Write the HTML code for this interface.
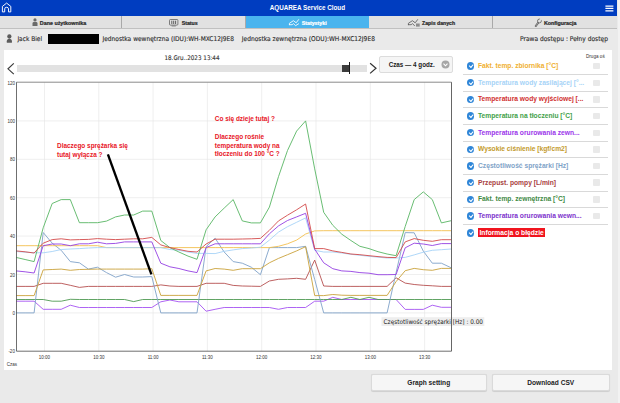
<!DOCTYPE html>
<html><head><meta charset="utf-8"><title>AQUAREA Service Cloud</title>
<style>
html,body{margin:0;padding:0}
body{width:620px;height:403px;overflow:hidden;background:#eaeaea;font-family:"Liberation Sans","DejaVu Sans",sans-serif;position:relative;color:#333}
.abs{position:absolute}
.dv{font-family:"DejaVu Sans Condensed","Liberation Sans",sans-serif;-webkit-text-stroke:0.12px currentColor;color:#2c2c2c}
#top{left:0;top:0;width:617.3px;height:15.7px;background:#003dc0}
#title{left:-2.5px;top:0;width:619.8px;height:15.4px;line-height:15.4px;text-align:center;color:#fff;font-weight:bold;font-size:6.3px}
#tabs{left:0;top:15.7px;width:617.3px;height:13px;background:#e1e1e1;border-bottom:0.7px solid #c0c0c0;box-sizing:border-box}
.tab{position:absolute;top:0;height:12.3px;box-sizing:border-box;border-right:0.8px solid #a9a9a9}
.tt{position:absolute;top:0;height:12.4px;line-height:14.7px;font-weight:bold;color:#2a2a2a;white-space:nowrap;-webkit-text-stroke:0.22px currentColor}
.tab.on{background:#4ab4ee;color:#fff}
#urow{left:0;top:29px;width:620px;height:20px;font-size:6.3px;line-height:20.4px;color:#333}
#panel{left:4.3px;top:50.3px;width:607.4px;height:319.9px;background:#fff}
.ax{font-size:4.5px;fill:#333;font-family:"Liberation Sans",sans-serif}
.ann{font-size:6.45px;font-weight:bold;fill:#e8161f;font-family:"Liberation Sans",sans-serif}
.lrow{position:absolute;left:462.6px;width:145.3px;height:17.3px;border-bottom:0.9px solid #d9d9d9;box-sizing:border-box}
.chk{position:absolute;left:4.3px;top:4.6px;width:7.4px;height:7.4px;border-radius:50%;background:#2f86d8}
.chk:after{content:"";position:absolute;left:1.8px;top:1.9px;width:3.2px;height:1.6px;border-left:1.1px solid #fff;border-bottom:1.1px solid #fff;transform:rotate(-48deg)}
.lt{position:absolute;left:15.4px;top:0.3px;line-height:15.4px;font-size:6.7px;font-weight:bold;white-space:nowrap}
.box{position:absolute;left:130.8px;top:5px;width:6.5px;height:6.5px;background:#e9e9e9;border-radius:1px}
.btn{position:absolute;top:374.3px;height:16.6px;box-shadow:0 0.5px 0.8px rgba(0,0,0,0.12);background:#f6f6f6;border:0.8px solid #dadada;border-radius:2px;box-sizing:border-box;text-align:center;line-height:15.6px;font-size:6.6px;font-weight:bold;color:#222}
</style></head><body>
<div id="top" class="abs"></div>
<div id="title" class="abs">AQUAREA Service Cloud</div>
<svg class="abs" style="left:0;top:0" width="14" height="15" viewBox="0 0 14 15"><path d="M2.4 6.4 L6.6 3.1 L10.8 6.4 V11.9 H8.5 V8.8 Q8.5 7.3 6.6 7.3 Q4.7 7.3 4.7 8.8 V11.9 H2.4 Z" fill="none" stroke="#fff" stroke-width="0.95" stroke-linejoin="round"/></svg>
<svg class="abs" style="left:605px;top:4.6px" width="9" height="7" viewBox="0 0 9 7"><path d="M0.4 1H8.4M0.4 3.4H8.4M0.4 5.8H8.4" stroke="#fff" stroke-width="1.25"/></svg>
<div id="tabs" class="abs">
<div class="tab" style="left:0;width:121.5px"></div>
<div class="tab" style="left:121.5px;width:124.3px"></div>
<div class="tab on" style="left:245.8px;width:123.6px;border-right:0"></div>
<div class="tab" style="left:369.4px;width:124.1px"></div>
<div class="tab" style="left:493.5px;width:123.8px;border-right:0"></div>
<span class="tt" style="left:39.8px;font-size:5.36px">Dane użytkownika</span>
<span class="tt" style="left:181.7px;font-size:5.24px">Status</span>
<span class="tt" style="left:301.7px;font-size:5.29px;color:#fff">Statystyki</span>
<span class="tt" style="left:422.1px;font-size:5.16px">Zapis danych</span>
<span class="tt" style="left:543.9px;font-size:5.32px">Konfiguracja</span>
<svg class="abs" style="left:32px;top:2.4px" width="6" height="8.5" viewBox="0 0 6 8.5"><circle cx="3" cy="1.9" r="1.6" fill="#6a6a6a"/><path d="M0.5 8V5.4Q0.5 4 1.9 4H4.1Q5.5 4 5.5 5.4V8Z" fill="#6a6a6a"/></svg>
<svg class="abs" style="left:169.3px;top:3px" width="10" height="8" viewBox="0 0 10 8"><rect x="0.5" y="0.5" width="8.4" height="5.6" rx="0.9" fill="none" stroke="#5a5a5a" stroke-width="0.75"/><path d="M2.8 1.7V5M4.7 1.7V5M6.6 1.7V5" stroke="#444" stroke-width="0.85"/><path d="M2.6 7H6.8" stroke="#666" stroke-width="0.7"/></svg>
<svg class="abs" style="left:288px;top:2px" width="13" height="10" viewBox="0 0 13 10"><path d="M1.4 6.7V5.3L5.4 2.7L8.2 4.8L10.6 1.6" fill="none" stroke="#fff" stroke-width="0.85" stroke-linejoin="round" stroke-linecap="round"/><path d="M1.4 6.7H4.2L5.5 5.6L7.5 7.7L10.6 5.8" fill="none" stroke="#fff" stroke-width="0.85" stroke-linejoin="round" stroke-linecap="round"/></svg>
<svg class="abs" style="left:407px;top:2px" width="14" height="10" viewBox="0 0 14 10"><path d="M1.4 6.7V5.3L5.4 2.7L8.2 4.8L10.6 1.6" fill="none" stroke="#555" stroke-width="0.8" stroke-linejoin="round" stroke-linecap="round"/><path d="M1.4 6.7H4.2L5.5 5.6L7.5 7.7" fill="none" stroke="#555" stroke-width="0.8" stroke-linejoin="round" stroke-linecap="round"/><rect x="9" y="5.5" width="3.7" height="3.1" fill="#8c8c8c"/></svg>
<svg class="abs" style="left:534px;top:2px" width="9" height="10" viewBox="0 0 9 10"><path d="M1.7 8.1L4.3 4.6" stroke="#5a5a5a" stroke-width="1.8" fill="none" stroke-linecap="round"/><path d="M1.7 8.1L4.3 4.6" stroke="#dcdcdc" stroke-width="0.55" fill="none" stroke-linecap="round"/><circle cx="5.4" cy="3" r="1.9" fill="#e1e1e1" stroke="#5a5a5a" stroke-width="0.8"/><path d="M5.5 2.9L7.8 0.3" stroke="#e1e1e1" stroke-width="1.5" fill="none"/></svg>
</div>
<div id="urow" class="abs">
<span class="abs dv" style="left:17.4px;top:0;white-space:nowrap;font-size:6.5px">Jack Biel</span>
<span class="abs" style="left:48px;top:4.5px;width:50.8px;height:10.4px;background:#000"></span>
<span class="abs dv" style="left:102.4px;top:0;white-space:nowrap;font-size:6.58px">Jednostka wewnętrzna (IDU):WH-MXC12J9E8</span>
<span class="abs dv" style="left:241.8px;top:0;white-space:nowrap;font-size:6.6px">Jednostka zewnętrzna (ODU):WH-MXC12J9E8</span>
<span class="abs dv" style="left:520px;top:0;white-space:nowrap;font-size:6.61px">Prawa dostępu : Pełny dostęp</span>
</div>
<svg class="abs" style="left:0;top:30px" width="16" height="16" viewBox="0 0 16 16"><circle cx="9.35" cy="6.5" r="2.15" fill="#5c5c5c"/><path d="M6.8 12.7V11.2Q6.8 8.7 9.35 8.7Q11.9 8.7 11.9 11.2V12.7Z" fill="#5c5c5c"/></svg>
<div class="abs" style="left:617.5px;top:0;width:2.5px;height:403px;background:#f2f2f2"></div>
<div id="panel" class="abs"></div>
<div class="abs dv" style="top:54.3px;width:200px;text-align:center;font-size:6.25px;color:#333;left:92px">18.Gru..2023 13:44</div>
<div class="abs" style="left:16.8px;top:65.1px;width:350.5px;height:6.6px;background:#e2e2e2"></div>
<svg class="abs" style="left:5px;top:60px" width="12" height="17" viewBox="0 0 12 17"><path d="M8.8 3.4L3 8.8L8.8 14.2" fill="none" stroke="#3a3a3a" stroke-width="1.15"/></svg>
<svg class="abs" style="left:367px;top:60px" width="12" height="17" viewBox="0 0 12 17"><path d="M3.1 3.2L9 8.3L3.1 13.4" fill="none" stroke="#333" stroke-width="1.2"/></svg>
<div class="abs" style="left:342px;top:64.7px;width:7px;height:7.3px;background:#3c3c3c"></div>
<div class="abs" style="left:348.9px;top:62.2px;width:1.5px;height:12.3px;background:#1a1a1a"></div>
<div class="abs" style="left:379.3px;top:55.9px;width:74px;height:17.2px;background:#f5f5f5;border:0.8px solid #dcdcdc;border-radius:2px;box-sizing:border-box"></div>
<div class="abs" style="left:388.7px;top:55.9px;height:17.2px;line-height:17.6px;font-size:6.29px;font-weight:bold;color:#222;white-space:nowrap">Czas — 4 godz.</div>
<svg class="abs" style="left:440.8px;top:60.2px" width="9" height="9" viewBox="0 0 9 9"><circle cx="4.5" cy="4.5" r="4" fill="#a6a6a6"/><path d="M2.5 3.7L4.5 5.8L6.5 3.7" fill="none" stroke="#fff" stroke-width="1.1"/></svg>

<svg class="abs" style="left:0;top:0" width="620" height="403" viewBox="0 0 620 403">
<line x1="44.5" y1="82.2" x2="44.5" y2="351.2" stroke="#e7e7e7" stroke-width="0.65"/>
<line x1="98.8" y1="82.2" x2="98.8" y2="351.2" stroke="#e7e7e7" stroke-width="0.65"/>
<line x1="153.1" y1="82.2" x2="153.1" y2="351.2" stroke="#e7e7e7" stroke-width="0.65"/>
<line x1="207.4" y1="82.2" x2="207.4" y2="351.2" stroke="#e7e7e7" stroke-width="0.65"/>
<line x1="261.7" y1="82.2" x2="261.7" y2="351.2" stroke="#e7e7e7" stroke-width="0.65"/>
<line x1="316.0" y1="82.2" x2="316.0" y2="351.2" stroke="#e7e7e7" stroke-width="0.65"/>
<line x1="370.3" y1="82.2" x2="370.3" y2="351.2" stroke="#e7e7e7" stroke-width="0.65"/>
<line x1="424.6" y1="82.2" x2="424.6" y2="351.2" stroke="#e7e7e7" stroke-width="0.65"/>
<line x1="16.5" y1="120.9" x2="451.5" y2="120.9" stroke="#e7e7e7" stroke-width="0.65"/>
<line x1="16.5" y1="159.3" x2="451.5" y2="159.3" stroke="#e7e7e7" stroke-width="0.65"/>
<line x1="16.5" y1="197.7" x2="451.5" y2="197.7" stroke="#e7e7e7" stroke-width="0.65"/>
<line x1="16.5" y1="236.1" x2="451.5" y2="236.1" stroke="#e7e7e7" stroke-width="0.65"/>
<line x1="16.5" y1="274.5" x2="451.5" y2="274.5" stroke="#e7e7e7" stroke-width="0.65"/>
<line x1="16.5" y1="312.9" x2="451.5" y2="312.9" stroke="#e7e7e7" stroke-width="0.65"/>
<polyline points="16.0,301.2 25.1,301.2 34.1,301.2 43.2,309.3 52.2,309.3 61.2,309.3 70.3,305.2 79.4,307.5 88.4,307.5 97.5,307.5 106.5,307.5 115.6,307.5 124.6,307.5 133.7,307.5 142.7,307.5 151.8,307.5 160.8,301.8 169.9,300.0 178.9,301.8 188.0,301.8 197.0,301.8 206.1,311.2 215.1,309.3 224.2,307.5 233.2,307.5 242.3,307.5 251.3,307.5 260.4,307.5 269.4,307.5 278.5,309.3 287.5,307.5 296.6,307.5 305.6,307.5 314.7,301.2 323.7,301.2 332.8,297.3 341.8,299.5 350.9,299.5 359.9,299.5 369.0,299.5 378.0,299.5 387.1,299.5 396.1,299.5 405.2,309.4 414.2,309.4 423.3,309.4 432.3,305.2 441.4,307.3 451.2,307.3" fill="none" stroke="#a552f2" stroke-width="0.9" stroke-linejoin="round"/>
<polyline points="16.0,299.5 25.1,299.5 34.1,299.5 43.2,299.5 52.2,301.2 61.2,301.2 70.3,299.3 79.4,299.5 88.4,299.5 97.5,299.5 106.5,299.5 115.6,299.5 124.6,299.5 133.7,301.6 142.7,299.5 151.8,299.5 160.8,299.5 169.9,299.5 178.9,299.5 188.0,299.5 197.0,299.5 206.1,299.5 215.1,299.5 224.2,299.5 233.2,299.5 242.3,299.5 251.3,299.5 260.4,299.5 269.4,299.5 278.5,299.5 287.5,299.5 296.6,299.5 305.6,299.5 314.7,299.5 323.7,299.5 332.8,299.5 341.8,299.5 350.9,297.3 359.9,299.5 369.0,297.3 378.0,299.5 387.1,299.5 396.1,299.5 405.2,299.5 414.2,299.5 423.3,299.5 432.3,299.5 441.4,299.5 451.2,299.5" fill="none" stroke="#4f9a52" stroke-width="0.9" stroke-linejoin="round"/>
<polyline points="16.0,286.4 25.1,286.4 34.1,286.4 43.2,283.3 52.2,283.3 61.2,283.3 70.3,285.3 79.4,287.4 88.4,286.4 97.5,286.4 106.5,286.4 115.6,286.4 124.6,286.4 133.7,286.4 142.7,286.4 151.8,286.4 160.8,284.9 169.9,286.0 178.9,286.4 188.0,286.4 197.0,286.4 206.1,283.3 215.1,283.3 224.2,283.3 233.2,285.4 242.3,286.0 251.3,286.2 260.4,286.4 269.4,281.0 278.5,279.3 287.5,278.9 296.6,278.3 305.6,279.3 314.7,260.1 323.7,286.0 332.8,286.4 341.8,286.4 350.9,286.4 359.9,286.4 369.0,286.4 378.0,286.4 387.1,286.4 396.1,277.8 405.2,283.1 414.2,284.5 423.3,285.3 432.3,285.8 441.4,286.4 451.2,286.4" fill="none" stroke="#b54f4f" stroke-width="0.9" stroke-linejoin="round"/>
<polyline points="16.0,312.9 25.1,312.9 34.1,312.9 43.2,232.5 52.2,243.2 61.2,250.3 70.3,261.6 79.4,262.8 88.4,269.1 97.5,267.2 106.5,272.6 115.6,277.2 124.6,274.5 133.7,277.0 142.7,277.0 151.8,276.6 160.8,312.9 169.9,312.9 178.9,312.9 188.0,312.9 197.0,312.9 206.1,246.7 215.1,238.2 224.2,252.0 233.2,261.6 242.3,263.2 251.3,267.2 260.4,274.7 269.4,247.6 278.5,247.6 287.5,247.6 296.6,247.6 305.6,246.3 314.7,279.5 323.7,312.9 332.8,312.9 341.8,312.9 350.9,312.9 359.9,312.9 369.0,312.9 378.0,312.9 387.1,312.9 396.1,272.6 405.2,232.6 414.2,232.8 423.3,251.1 432.3,263.2 441.4,263.2 451.2,267.8" fill="none" stroke="#7fa2c8" stroke-width="0.9" stroke-linejoin="round"/>
<polyline points="16.0,295.6 25.1,295.6 34.1,295.6 43.2,269.9 52.2,269.5 61.2,269.1 70.3,270.3 79.4,269.5 88.4,269.3 97.5,269.1 106.5,269.1 115.6,269.1 124.6,269.1 133.7,269.1 142.7,269.1 151.8,268.7 160.8,295.4 169.9,295.4 178.9,295.4 188.0,295.4 197.0,295.4 206.1,270.9 215.1,268.5 224.2,269.1 233.2,270.3 242.3,268.7 251.3,268.7 260.4,268.7 269.4,262.8 278.5,258.4 287.5,254.7 296.6,250.9 305.6,246.7 314.7,295.6 323.7,295.6 332.8,294.5 341.8,295.2 350.9,295.4 359.9,295.4 369.0,295.4 378.0,295.4 387.1,295.4 396.1,281.6 405.2,270.7 414.2,268.4 423.3,269.7 432.3,270.3 441.4,268.4 451.2,268.4" fill="none" stroke="#c9a13a" stroke-width="0.9" stroke-linejoin="round"/>
<polyline points="16.0,245.7 25.1,245.7 34.1,245.7 43.2,245.7 52.2,245.7 61.2,245.7 70.3,245.7 79.4,245.7 88.4,245.7 97.5,245.7 106.5,247.6 115.6,247.6 124.6,247.6 133.7,247.6 142.7,247.6 151.8,247.6 160.8,247.6 169.9,247.6 178.9,247.6 188.0,247.6 197.0,247.6 206.1,247.6 215.1,247.6 224.2,247.6 233.2,247.6 242.3,247.6 251.3,247.6 260.4,247.6 269.4,247.6 278.5,246.3 287.5,243.8 296.6,240.1 305.6,234.0 314.7,230.9 323.7,230.7 332.8,230.7 341.8,230.7 350.9,230.7 359.9,230.7 369.0,230.7 378.0,230.7 387.1,230.7 396.1,230.7 405.2,230.7 414.2,230.7 423.3,230.7 432.3,230.7 441.4,230.7 451.2,230.7" fill="none" stroke="#f3c04e" stroke-width="0.9" stroke-linejoin="round"/>
<polyline points="16.0,251.5 25.1,252.2 34.1,252.8 43.2,252.8 52.2,251.5 61.2,249.5 70.3,249.0 79.4,248.6 88.4,248.0 97.5,247.6 106.5,247.6 115.6,247.6 124.6,247.6 133.7,247.6 142.7,247.6 151.8,247.6 160.8,247.6 169.9,249.5 178.9,250.3 188.0,252.0 197.0,253.4 206.1,253.4 215.1,253.6 224.2,251.3 233.2,249.9 242.3,248.6 251.3,248.0 260.4,247.2 269.4,240.1 278.5,232.1 287.5,226.7 296.6,222.3 305.6,217.9 314.7,250.3 323.7,252.0 332.8,252.0 341.8,253.0 350.9,254.3 359.9,255.3 369.0,256.3 378.0,257.2 387.1,258.0 396.1,258.0 405.2,257.4 414.2,254.9 423.3,252.2 432.3,250.3 441.4,249.7 451.2,249.0" fill="none" stroke="#a6d3f7" stroke-width="0.9" stroke-linejoin="round"/>
<polyline points="16.0,257.4 25.1,259.5 34.1,261.6 43.2,227.8 52.2,203.5 61.2,199.6 70.3,199.6 79.4,222.7 88.4,222.7 97.5,222.7 106.5,221.1 115.6,216.9 124.6,215.0 133.7,215.0 142.7,211.1 151.8,211.1 160.8,240.5 169.9,247.6 178.9,252.0 188.0,256.1 197.0,259.3 206.1,229.8 215.1,216.9 224.2,208.1 233.2,199.6 242.3,220.9 251.3,222.9 260.4,222.9 269.4,207.1 278.5,176.6 287.5,150.5 296.6,131.1 305.6,120.9 314.7,168.9 323.7,212.3 332.8,225.3 341.8,234.2 350.9,240.5 359.9,246.3 369.0,248.6 378.0,251.7 387.1,254.0 396.1,255.7 405.2,226.5 414.2,199.6 423.3,191.9 432.3,199.6 441.4,222.9 451.2,220.7" fill="none" stroke="#58b563" stroke-width="0.9" stroke-linejoin="round"/>
<polyline points="16.0,270.9 25.1,271.8 34.1,273.0 43.2,245.7 52.2,244.0 61.2,244.0 70.3,245.7 79.4,243.8 88.4,243.8 97.5,242.2 106.5,243.8 115.6,243.4 124.6,241.9 133.7,241.9 142.7,241.9 151.8,241.9 160.8,263.2 169.9,266.8 178.9,268.5 188.0,270.9 197.0,272.6 206.1,247.6 215.1,243.8 224.2,243.8 233.2,243.8 242.3,243.8 251.3,243.8 260.4,243.8 269.4,233.8 278.5,225.9 287.5,220.5 296.6,216.9 305.6,213.3 314.7,249.2 323.7,262.8 332.8,268.7 341.8,270.9 350.9,271.4 359.9,272.6 369.0,273.2 378.0,274.7 387.1,274.7 396.1,274.5 405.2,247.8 414.2,243.2 423.3,244.0 432.3,245.5 441.4,243.6 451.2,243.6" fill="none" stroke="#9440e2" stroke-width="0.9" stroke-linejoin="round"/>
<polyline points="16.0,250.9 25.1,251.8 34.1,253.0 43.2,243.2 52.2,239.6 61.2,238.8 70.3,239.9 79.4,239.6 88.4,239.4 97.5,238.6 106.5,239.2 115.6,239.6 124.6,239.2 133.7,238.8 142.7,238.8 151.8,237.4 160.8,244.9 169.9,247.6 178.9,249.5 188.0,251.3 197.0,252.0 206.1,244.0 215.1,239.2 224.2,239.2 233.2,239.2 242.3,239.0 251.3,238.8 260.4,238.4 269.4,230.3 278.5,220.9 287.5,215.2 296.6,209.8 305.6,204.0 314.7,248.6 323.7,248.6 332.8,250.9 341.8,252.4 350.9,254.0 359.9,254.7 369.0,255.7 378.0,256.6 387.1,257.4 396.1,257.6 405.2,241.9 414.2,238.6 423.3,240.3 432.3,241.3 441.4,239.7 451.2,239.7" fill="none" stroke="#d24a4a" stroke-width="0.9" stroke-linejoin="round"/>
<rect x="381.5" y="317.2" width="102.8" height="8.8" fill="#eeeeee"/>
<line x1="16.5" y1="82.2" x2="451.5" y2="82.2" stroke="#8a8a8a" stroke-width="1"/>
<line x1="451.5" y1="82.2" x2="451.5" y2="351.2" stroke="#666" stroke-width="1"/>
<line x1="16.5" y1="82.2" x2="16.5" y2="351.2" stroke="#555" stroke-width="0.85"/>
<line x1="16.5" y1="351.2" x2="451.5" y2="351.2" stroke="#555" stroke-width="0.85"/>
<text x="14.9" y="84.6" text-anchor="end" class="ax">120</text>
<text x="14.9" y="123.0" text-anchor="end" class="ax">100</text>
<text x="14.9" y="161.4" text-anchor="end" class="ax">80</text>
<text x="14.9" y="199.8" text-anchor="end" class="ax">60</text>
<text x="14.9" y="238.2" text-anchor="end" class="ax">40</text>
<text x="14.9" y="276.6" text-anchor="end" class="ax">20</text>
<text x="14.9" y="315.0" text-anchor="end" class="ax">0</text>
<text x="14.9" y="353.4" text-anchor="end" class="ax">-20</text>
<text x="44.5" y="358.5" text-anchor="middle" class="ax">10:00</text>
<text x="98.8" y="358.5" text-anchor="middle" class="ax">10:30</text>
<text x="153.1" y="358.5" text-anchor="middle" class="ax">11:00</text>
<text x="207.4" y="358.5" text-anchor="middle" class="ax">11:30</text>
<text x="261.7" y="358.5" text-anchor="middle" class="ax">12:00</text>
<text x="316.0" y="358.5" text-anchor="middle" class="ax">12:30</text>
<text x="370.3" y="358.5" text-anchor="middle" class="ax">13:00</text>
<text x="424.6" y="358.5" text-anchor="middle" class="ax">13:30</text>
<text x="6.8" y="365.6" class="ax">Czas</text>
<text x="383.6" y="323.7" style="font-size:6.4px;fill:#222;font-family:'DejaVu Sans Condensed','Liberation Sans',sans-serif">Częstotliwość sprężarki [Hz] : 0.00</text>
<line x1="107.9" y1="154.3" x2="151.4" y2="274.3" stroke="#000" stroke-width="2.35"/>
<text x="57" y="147.5" class="ann">Dlaczego sprężarka się</text>
<text x="57" y="156.8" class="ann">tutaj wyłącza ?</text>
<text x="214.8" y="120.5" class="ann">Co się dzieje tutaj ?</text>
<text x="214.8" y="138.6" class="ann">Dlaczego rośnie</text>
<text x="214.8" y="147.5" class="ann">temperatura wody na</text>
<text x="214.8" y="156.3" class="ann">tłoczeniu do 100 °C ?</text>
</svg>

<div class="abs" style="left:586px;top:53.7px;font-size:4.62px;color:#333;white-space:nowrap">Druga oś</div>
<div class="lrow" style="top:57.9px"><span class="chk"></span><span class="lt" style="color:#f0b030">Fakt. temp. zbiornika [°C]</span><span class="box"></span></div>
<div class="lrow" style="top:74.5px"><span class="chk"></span><span class="lt" style="color:#a6d3f7">Temperatura wody zasilającej [°...</span><span class="box"></span></div>
<div class="lrow" style="top:91.2px"><span class="chk"></span><span class="lt" style="color:#d03030">Temperatura wody wyjściowej [...</span><span class="box"></span></div>
<div class="lrow" style="top:107.9px"><span class="chk"></span><span class="lt" style="color:#3f9f48">Temperatura na tłoczeniu [°C]</span><span class="box"></span></div>
<div class="lrow" style="top:124.5px"><span class="chk"></span><span class="lt" style="color:#9b35ea">Temperatura orurowania zewn...</span><span class="box"></span></div>
<div class="lrow" style="top:141.1px"><span class="chk"></span><span class="lt" style="color:#c39a2c">Wysokie ciśnienie [kgf/cm2]</span><span class="box"></span></div>
<div class="lrow" style="top:157.8px"><span class="chk"></span><span class="lt" style="color:#7fa3c8">Częstotliwość sprężarki [Hz]</span><span class="box"></span></div>
<div class="lrow" style="top:174.4px"><span class="chk"></span><span class="lt" style="color:#a84040">Przepust. pompy [L/min]</span><span class="box"></span></div>
<div class="lrow" style="top:191.1px"><span class="chk"></span><span class="lt" style="color:#3f8a45">Fakt. temp. zewnętrzna [°C]</span><span class="box"></span></div>
<div class="lrow" style="top:207.8px"><span class="chk"></span><span class="lt" style="color:#7d32cc">Temperatura orurowania wewn...</span><span class="box"></span></div>
<div class="lrow" style="top:224.4px;border-bottom:0"><span class="chk" style="top:4.9px"></span><span class="lt" style="color:#fff;top:0.8px"><span style="background:#f0141e;padding:1.2px 1.5px">Informacja o błędzie</span></span></div>

<div class="btn" style="left:370.5px;width:116.5px">Graph setting</div>
<div class="btn" style="left:492px;width:117.5px">Download CSV</div>
</body></html>
